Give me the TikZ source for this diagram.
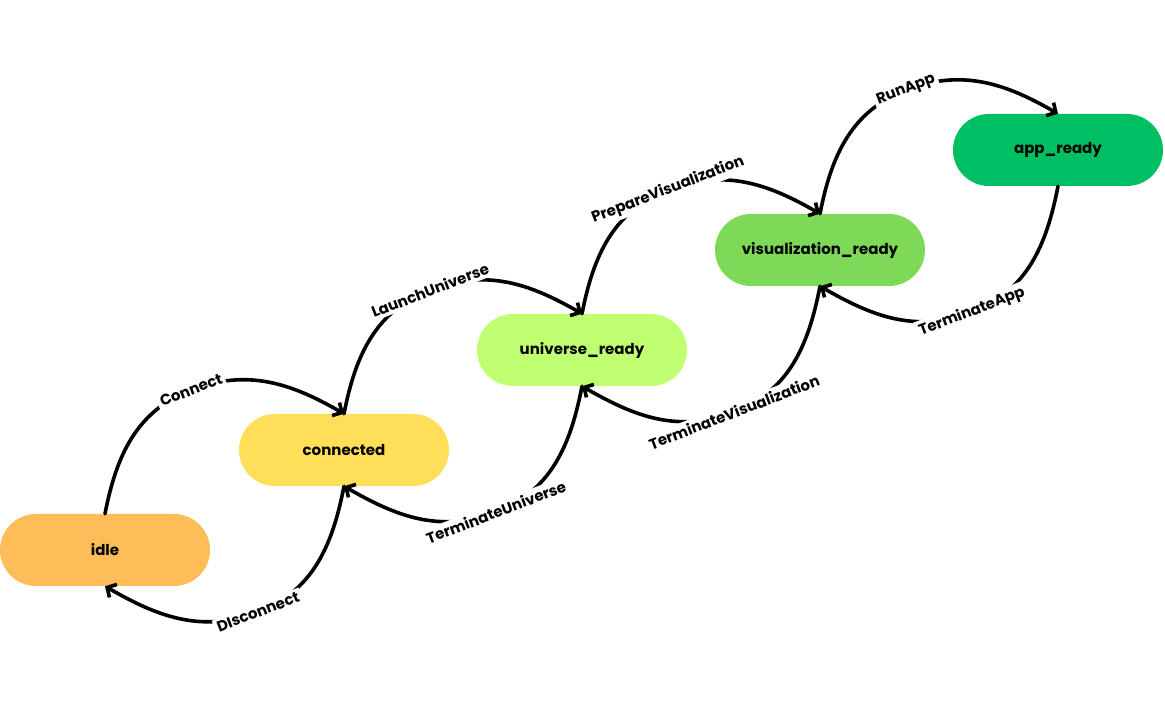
\documentclass[tikz,border=0pt]{standalone}
\usepackage{fontspec}
\setmainfont{Poppins}
\usetikzlibrary{calc,arrows.meta}
\definecolor{IdleOrange}{HTML}{FFBD59}
\definecolor{ConnYellow}{HTML}{FFDE59}
\definecolor{UnivLime}{HTML}{C1FF72}
\definecolor{VisGreen}{HTML}{7ED957}
\definecolor{AppGreen}{HTML}{00BF63}
\tikzset{
    state/.style={rectangle, rounded corners=36pt, minimum width=210pt, minimum height=72pt,
        inner sep=0pt, font=\bfseries\fontsize{15}{18}\selectfont},
    trans/.style={rotate=21, fill=white, inner sep=3pt, font=\bfseries\fontsize{15}{18}\selectfont},
    flow/.style={line width=3.6pt, line cap=round, -{Straight Barb[length=7pt, width=15pt]}}
}

\begin{document}
\begin{tikzpicture}[x=1pt, y=1pt]
\useasboundingbox (0,0) rectangle (1165,701);

\node[state, fill=IdleOrange] (idle) at (105,151) {idle};
\node[state, fill=ConnYellow] (connected) at (344,251) {connected};
\node[state, fill=UnivLime] (universe-ready) at (582,351) {universe\_ready};
\node[state, fill=VisGreen] (vis-ready) at (820,451) {visualization\_ready};
\node[state, fill=AppGreen] (app-ready) at (1058,551) {app\_ready};

% forward transitions
\draw[flow] (idle.north) to[out=79,in=-159] ($(idle)+(86,160)$)
    node[trans] (connect-lbl) {Connect} to[out=21,in=150] (connected.north);
\draw[flow] (connected.north) to[out=79,in=-159] ($(connected)+(86,160)$)
    node[trans] (launch-lbl) {LaunchUniverse} to[out=21,in=150] (universe-ready.north);
\draw[flow] (universe-ready.north) to[out=79,in=-159] ($(universe-ready)+(86,160)$)
    node[trans] (prepare-lbl) {PrepareVisualization} to[out=21,in=150] (vis-ready.north);
\draw[flow] (vis-ready.north) to[out=79,in=-159] ($(vis-ready)+(86,160)$)
    node[trans] (run-lbl) {RunApp} to[out=21,in=150] (app-ready.north);

% backward transitions
\draw[flow] (connected.south) to[out=-101,in=21] ($(connected)+(-86,-162)$)
    node[trans] (disconnect-lbl) {DIsconnect} to[out=-159,in=-30] (idle.south);
\draw[flow] (universe-ready.south) to[out=-101,in=21] ($(universe-ready)+(-86,-162)$)
    node[trans] (term-univ-lbl) {TerminateUniverse} to[out=-159,in=-30] (connected.south);
\draw[flow] (vis-ready.south) to[out=-101,in=21] ($(vis-ready)+(-86,-162)$)
    node[trans] (term-vis-lbl) {TerminateVisualization} to[out=-159,in=-30] (universe-ready.south);
\draw[flow] (app-ready.south) to[out=-101,in=21] ($(app-ready)+(-86,-162)$)
    node[trans] (term-app-lbl) {TerminateApp} to[out=-159,in=-30] (vis-ready.south);

\end{tikzpicture}
\end{document}
